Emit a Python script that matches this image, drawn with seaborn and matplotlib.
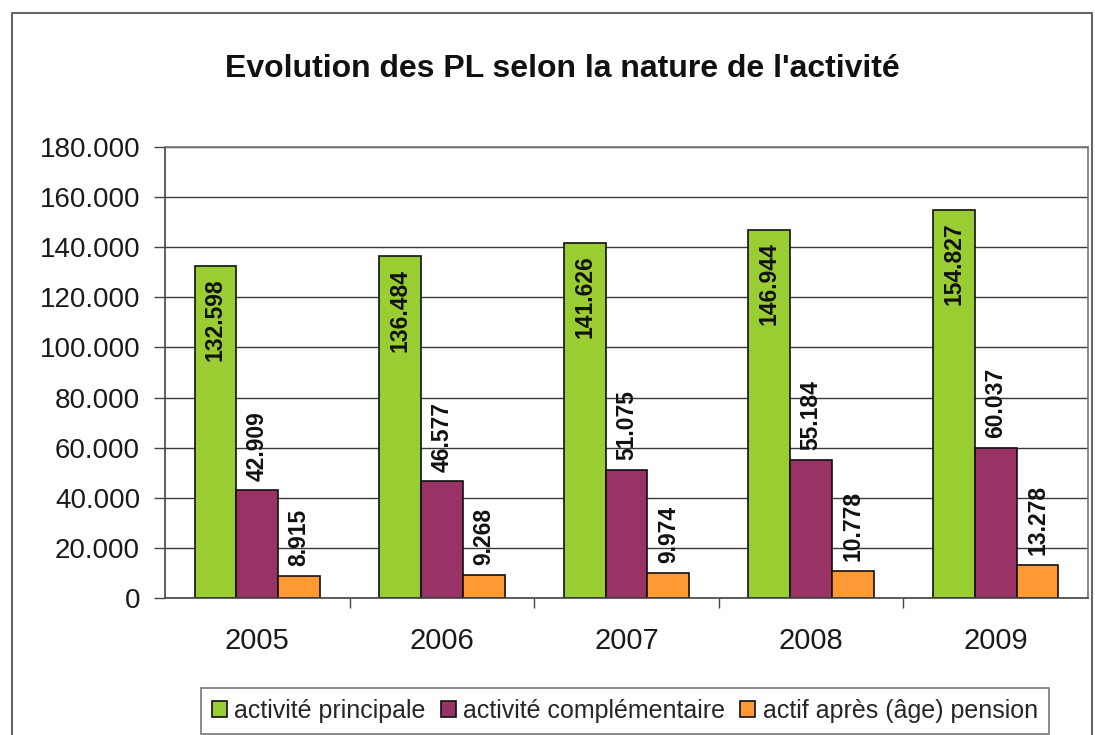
import matplotlib
matplotlib.use("Agg")
import matplotlib.pyplot as plt
import seaborn as sns
import pandas as pd
import numpy as np
from matplotlib.ticker import FuncFormatter, FixedLocator, MultipleLocator
from matplotlib.patches import Rectangle

years = ["2005", "2006", "2007", "2008", "2009"]
series_names = ["activité principale", "activité complémentaire", "actif après (âge) pension"]
principale = [132598, 136484, 141626, 146944, 154827]
complementaire = [42909, 46577, 51075, 55184, 60037]
pension = [8915, 9268, 9974, 10778, 13278]
colors = ["#9ACD32", "#993366", "#FF9933"]

rows = []
for name, vals in zip(series_names, [principale, complementaire, pension]):
    for y, v in zip(years, vals):
        rows.append({"year": y, "serie": name, "value": v})
df = pd.DataFrame(rows)

sns.set_theme(style="white")
plt.rcParams["font.family"] = ["Liberation Sans", "DejaVu Sans"]

fig = plt.figure(figsize=(10.95, 7.35), dpi=100)
ax = fig.add_axes([165/1095, 1-598/735, (1088-165)/1095, (598-147)/735])

sns.barplot(data=df, x="year", y="value", hue="serie", order=years,
            hue_order=series_names, palette=colors, width=0.68, gap=0,
            edgecolor="#111111", linewidth=1.2, saturation=1, ax=ax, legend=True)

ax.set_ylim(0, 180000)
ax.set_xlim(-0.5, 4.5)
ax.yaxis.set_major_locator(MultipleLocator(20000))
ax.yaxis.set_major_formatter(FuncFormatter(lambda v, p: f"{v:,.0f}".replace(",", ".")))
ax.grid(axis="y", color="#3a3a3a", linewidth=1.0)
ax.set_axisbelow(True)
for s in ax.spines.values():
    s.set_color("#777777")
    s.set_linewidth(1.2)
ax.spines["left"].set_color("#444444")
ax.spines["bottom"].set_color("#444444")

ax.tick_params(axis="y", which="major", length=8, width=1, color="#444444",
               direction="out", labelsize=20, pad=10, left=True, labelcolor="#1a1a1a")
ax.tick_params(axis="x", which="major", length=0, labelsize=21, pad=21, labelcolor="#1a1a1a")
ax.xaxis.set_minor_locator(FixedLocator([0.5, 1.5, 2.5, 3.5]))
ax.tick_params(axis="x", which="minor", length=7, width=1, color="#444444",
               direction="out", bottom=True)
ax.set_xlabel("")
ax.set_ylabel("")

# value labels
for i, cont in enumerate(ax.containers):
    for bar in cont:
        h = bar.get_height()
        xc = bar.get_x() + bar.get_width() / 2
        lab = f"{h:,.0f}".replace(",", ".")
        if i == 0:
            ax.annotate(lab, (xc, h), xytext=(0, -9), textcoords="offset points",
                        rotation=90, ha="center", va="top", fontsize=16.5,
                        fontweight="bold", color="#111111")
        else:
            ax.annotate(lab, (xc, h), xytext=(0, 7), textcoords="offset points",
                        rotation=90, ha="center", va="bottom", fontsize=16.5,
                        fontweight="bold", color="#111111")

# legend
leg = ax.legend(loc="center", bbox_to_anchor=(625/1095, 1-711/735),
                bbox_transform=fig.transFigure, ncol=3, frameon=True,
                fontsize=18, handlelength=0.6, handleheight=0.6,
                handletextpad=0.3, columnspacing=0.6, borderpad=0.45,
                borderaxespad=0, fancybox=False, edgecolor="#555555")
leg.get_frame().set_linewidth(1.2)

fig.text(562/1095, 1-69/735, "Evolution des PL selon la nature de l'activité",
         ha="center", va="center", fontsize=23, fontweight="bold", color="#111111")

# outer chart border
fig.patches.append(Rectangle((12/1095, -0.02), (1092-12)/1095, 1.02-13/735,
                             transform=fig.transFigure, fill=False,
                             edgecolor="#666666", linewidth=1.5))

fig.savefig("out.png", dpi=100)
